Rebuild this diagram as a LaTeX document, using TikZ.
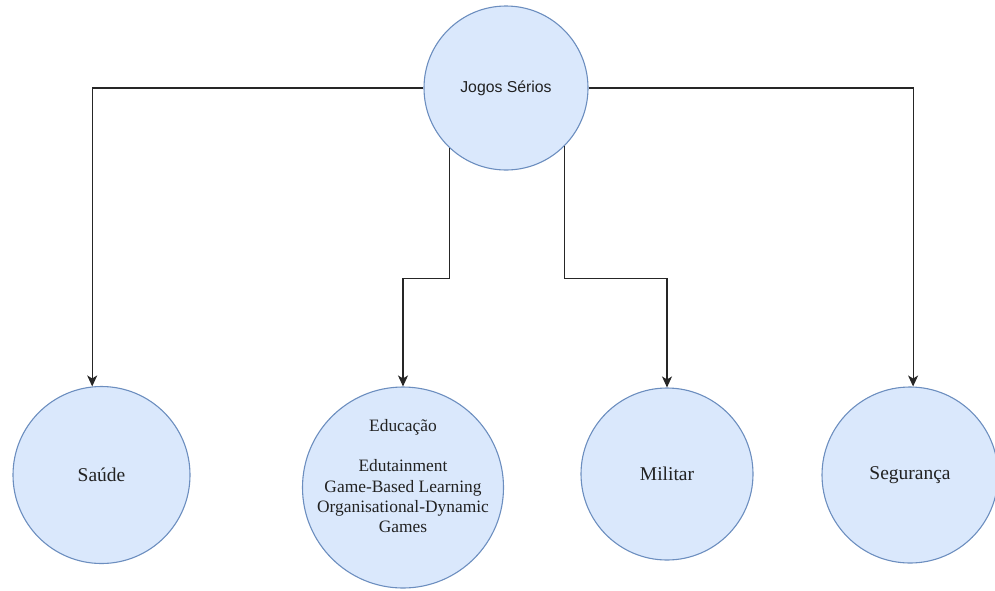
\documentclass[tikz,border=0pt]{standalone}
\usepackage{fontspec}
\setmainfont{Liberation Serif}
\newfontfamily\arialf{Liberation Sans}
\usetikzlibrary{arrows.meta,calc}
\definecolor{cfill}{HTML}{DAE8FC}
\definecolor{cline}{HTML}{6C8EBF}
\definecolor{ctext}{HTML}{222222}
\begin{document}
\begin{tikzpicture}[x=1pt,y=-1pt,
  bubble/.style={circle,draw=cline,fill=cfill,line width=1.1pt,inner sep=0pt,text=ctext,
    font=\fontsize{19.5}{22}\selectfont},
  conn/.style={draw=black!85,line width=1.2pt,-{Stealth[length=11pt,width=10pt,inset=3pt]}},
  edutext/.style={align=center,text=ctext,font=\fontsize{17.4}{20.2}\selectfont}]
\useasboundingbox (0,0) rectangle (995,590);
\node[bubble,minimum size=164pt,font=\arialf\fontsize{15.8}{18}\selectfont] (top) at (506,88) {Jogos Sérios};
\node[bubble,minimum size=177pt] (sau) at (101.5,475) {Saúde};
\node[bubble,minimum size=201pt] (edu) at (403,487.5) {};
\node[edutext] (edut) at (403,476) {Educação\\[20.2pt]Edutainment\\Game-Based Learning\\Organisational-Dynamic\\Games};
\node[bubble,minimum size=172pt] (mil) at (667,474) {Militar};
\node[bubble,minimum size=176pt] (seg) at (910,475) {Segurança};
\draw[conn] (top.west) -| (sau.96);
\draw[conn] (top.east) -| (seg.88);
\draw[conn] (top.227) -- ++(0,130) -| (edu.north);
\draw[conn] (top.-45) -- ++(0,132) -| (mil.north);
\end{tikzpicture}
\end{document}
